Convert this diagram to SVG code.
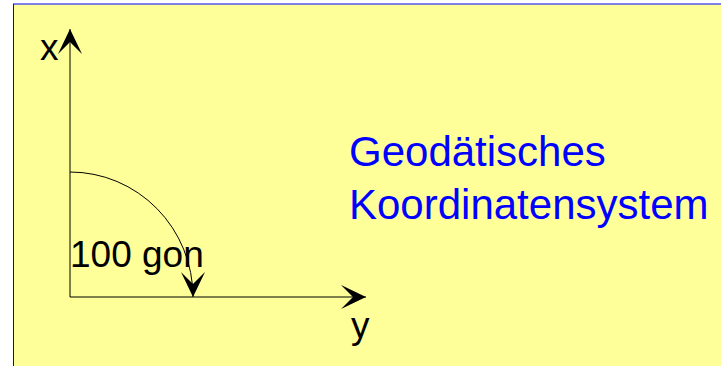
<svg xmlns="http://www.w3.org/2000/svg" width="721" height="366" viewBox="0 0 721 366">
  <style>
    .lbl { font-family: "Liberation Sans", Arial, sans-serif; font-size: 37px; fill: #000000; }
    .title { font-family: "Liberation Sans", Arial, sans-serif; font-size: 42px; fill: #0000FF; }
    .ax { stroke: #000000; stroke-width: 1; fill: none; }
  </style>
  <defs>
    <marker id="arrow" markerUnits="userSpaceOnUse" viewBox="-26 -13 27 26" markerWidth="27" markerHeight="26" refX="0" refY="0" orient="auto" overflow="visible">
      <path d="M0,0 L-25,-12 L-13,0 L-25,12 Z" fill="#000000"/>
    </marker>
  </defs>
  <rect id="background" x="13.5" y="4" width="720" height="400" fill="#FFFF99" stroke="#0000FF" stroke-width="1"/>
  <g id="connectors">
    <line class="ax" x1="70" y1="297" x2="70" y2="29" marker-end="url(#arrow)"/>
    <line class="ax" x1="70" y1="297" x2="366" y2="297" marker-end="url(#arrow)"/>
    <path class="ax" d="M70,172 A123,125 0 0 1 193,297" marker-end="url(#arrow)"/>
  </g>
  <g id="label-x"><text class="lbl" x="40" y="60">x</text></g>
  <g id="label-y"><text class="lbl" x="351" y="338">y</text></g>
  <g id="label-angle"><text class="lbl" x="70" y="267">100 gon</text></g>
  <g id="title">
    <text class="title" x="349" y="166">Geodätisches</text>
    <text class="title" x="349" y="219">Koordinatensystem</text>
  </g>
</svg>
